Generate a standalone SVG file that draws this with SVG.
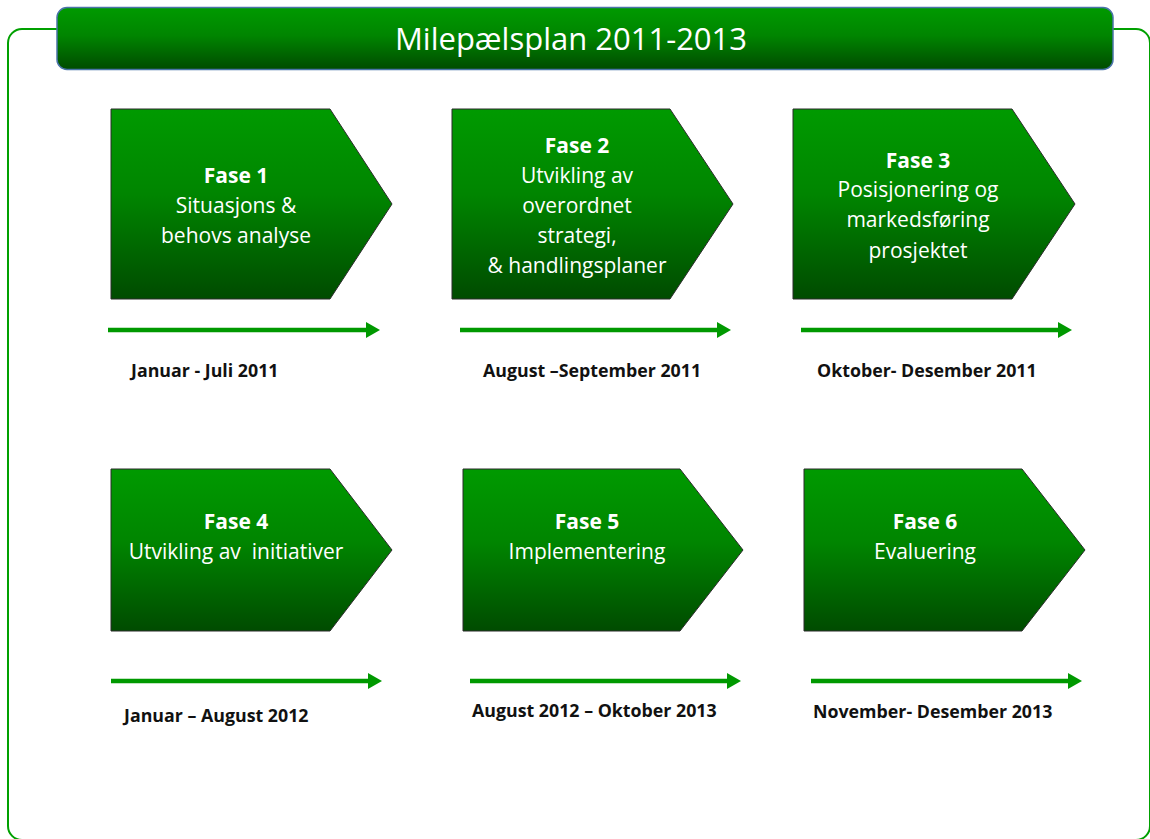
<svg xmlns="http://www.w3.org/2000/svg" width="1150" height="839" viewBox="0 0 1150 839">
<defs>
<linearGradient id="g" x1="0" y1="0" x2="0" y2="1">
<stop offset="0" stop-color="#009a00"/>
<stop offset="0.45" stop-color="#008500"/>
<stop offset="1" stop-color="#004b00"/>
</linearGradient>
<marker id="ah" viewBox="0 0 10 10" refX="0" refY="5" markerWidth="14" markerHeight="16" markerUnits="userSpaceOnUse" orient="auto" preserveAspectRatio="none">
<path d="M0,0 L10,5 L0,10 Z" fill="#009900"/>
</marker>
<style>
.node{fill:url(#g);stroke:#2b2b2b;stroke-width:1}
.nt{font-family:"Open Sans","Noto Sans","Liberation Sans",sans-serif;font-size:21px;fill:#fff;text-anchor:middle}
.nb{font-weight:bold}
.lbl{font-family:"Open Sans","Noto Sans","Liberation Sans",sans-serif;font-size:17.8px;font-weight:bold;fill:#111}
.arr{stroke:#009900;stroke-width:4.5;fill:none;marker-end:url(#ah)}
</style>
</defs>
<rect width="1150" height="839" fill="#fff"/>
<rect x="8" y="29" width="1142" height="811" rx="14" fill="none" stroke="#00a000" stroke-width="2"/>
<g id="title">
<rect x="57" y="7.5" width="1056" height="62" rx="10" fill="url(#g)" stroke="#4a74a8" stroke-width="1.5"/>
<text x="571" y="50" font-family="'Open Sans','Noto Sans','Liberation Sans',sans-serif" font-size="31" fill="#fff" text-anchor="middle">Milepælsplan 2011-2013</text>
</g>
<g id="fase1">
<path class="node" d="M111,109 H330 L392,204 L330,299 H111 Z"/>
<text class="nt"><tspan class="nb" x="236" y="183">Fase 1</tspan><tspan x="236" y="213">Situasjons &amp;</tspan><tspan x="236" y="243">behovs analyse</tspan></text>
</g>
<g id="fase2">
<path class="node" d="M452,109 H670 L733,204 L670,299 H452 Z"/>
<text class="nt"><tspan class="nb" x="577" y="153">Fase 2</tspan><tspan x="577" y="183">Utvikling av</tspan><tspan x="577" y="213">overordnet</tspan><tspan x="577" y="243">strategi,</tspan><tspan x="577" y="273">&amp; handlingsplaner</tspan></text>
</g>
<g id="fase3">
<path class="node" d="M793,109 H1012 L1075,204 L1012,299 H793 Z"/>
<text class="nt"><tspan class="nb" x="918" y="168">Fase 3</tspan><tspan x="918" y="197">Posisjonering og</tspan><tspan x="918" y="227">markedsføring</tspan><tspan x="918" y="258">prosjektet</tspan></text>
</g>
<g id="fase4">
<path class="node" d="M111,469 H330 L392,550 L330,631 H111 Z"/>
<text class="nt" xml:space="preserve"><tspan class="nb" x="236" y="529">Fase 4</tspan><tspan x="236" y="559">Utvikling av  initiativer</tspan></text>
</g>
<g id="fase5">
<path class="node" d="M463,469 H680 L743,550 L680,631 H463 Z"/>
<text class="nt"><tspan class="nb" x="587" y="529">Fase 5</tspan><tspan x="587" y="559">Implementering</tspan></text>
</g>
<g id="fase6">
<path class="node" d="M804,469 H1022 L1085,550 L1022,631 H804 Z"/>
<text class="nt"><tspan class="nb" x="925" y="529">Fase 6</tspan><tspan x="925" y="559">Evaluering</tspan></text>
</g>
<g id="connectors">
<line class="arr" x1="108" y1="330" x2="366" y2="330"/>
<line class="arr" x1="460" y1="330" x2="717" y2="330"/>
<line class="arr" x1="801" y1="330" x2="1058" y2="330"/>
<line class="arr" x1="111" y1="681" x2="368" y2="681"/>
<line class="arr" x1="470" y1="681" x2="727" y2="681"/>
<line class="arr" x1="811" y1="681" x2="1068" y2="681"/>
</g>
<g id="labels">
<text class="lbl" x="131" y="377">Januar - Juli 2011</text>
<text class="lbl" x="483" y="377">August –September 2011</text>
<text class="lbl" x="817" y="377">Oktober- Desember 2011</text>
<text class="lbl" x="124" y="722">Januar – August 2012</text>
<text class="lbl" x="472" y="717">August 2012 – Oktober 2013</text>
<text class="lbl" x="813" y="718">November- Desember 2013</text>
</g>
</svg>
